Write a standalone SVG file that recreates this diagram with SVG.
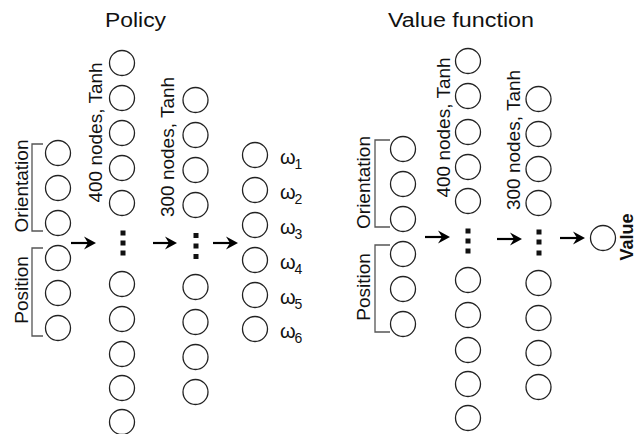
<svg xmlns="http://www.w3.org/2000/svg" width="636" height="434" viewBox="0 0 636 434">
<defs>
<style>
.n{fill:#fff;stroke:#222;stroke-width:1.3}
.t{font-family:"Liberation Sans",Arial,sans-serif;font-size:19px;fill:#111}
.m{text-anchor:middle}
.b{stroke:#555;stroke-width:1.3;fill:none}
.a{stroke:#000;stroke-width:2.2;fill:none}
.h{fill:#000}
.d{fill:#111}
.w{font-family:"Liberation Sans",Arial,sans-serif;font-size:20px;fill:#111}
.s{font-size:14px}
</style>
</defs>
<rect width="636" height="434" fill="#fff"/>

<!-- ===== Policy ===== -->
<g id="policy-title"><text class="t m" x="135.5" y="27" textLength="61" lengthAdjust="spacingAndGlyphs" style="font-size:20px">Policy</text></g>

<g id="policy-inputs">
<circle class="n" cx="58" cy="153" r="12.5"/>
<circle class="n" cx="58" cy="188" r="12.5"/>
<circle class="n" cx="58" cy="223" r="12.5"/>
<circle class="n" cx="58" cy="258" r="12.5"/>
<circle class="n" cx="58" cy="293" r="12.5"/>
<circle class="n" cx="58" cy="328" r="12.5"/>
<path class="b" d="M43,144 H32 V231 H43"/>
<path class="b" d="M43,248 H32 V336 H43"/>
<text class="t m" transform="translate(28,186) rotate(-90)">Orientation</text>
<text class="t m" transform="translate(28,290) rotate(-90)">Position</text>
</g>

<g id="policy-hidden1">
<text class="t m" transform="translate(102,132.5) rotate(-90)">400 nodes, Tanh</text>
<circle class="n" cx="122" cy="63" r="12.5"/>
<circle class="n" cx="122" cy="98" r="12.5"/>
<circle class="n" cx="122" cy="133" r="12.5"/>
<circle class="n" cx="122" cy="168" r="12.5"/>
<circle class="n" cx="122" cy="203" r="12.5"/>
<rect class="d" x="120.5" y="230.5" width="5" height="5"/>
<rect class="d" x="120.5" y="240.5" width="5" height="5"/>
<rect class="d" x="120.5" y="250.5" width="5" height="5"/>
<circle class="n" cx="122" cy="284" r="12.5"/>
<circle class="n" cx="122" cy="319" r="12.5"/>
<circle class="n" cx="122" cy="354" r="12.5"/>
<circle class="n" cx="122" cy="388" r="12.5"/>
<circle class="n" cx="122" cy="422" r="12.5"/>
</g>

<g id="policy-hidden2">
<text class="t m" transform="translate(174,147) rotate(-90)">300 nodes, Tanh</text>
<circle class="n" cx="195.5" cy="100" r="12.5"/>
<circle class="n" cx="195.5" cy="135" r="12.5"/>
<circle class="n" cx="195.5" cy="170" r="12.5"/>
<circle class="n" cx="195.5" cy="205" r="12.5"/>
<rect class="d" x="193.5" y="233" width="5" height="5"/>
<rect class="d" x="193.5" y="243.5" width="5" height="5"/>
<rect class="d" x="193.5" y="254" width="5" height="5"/>
<circle class="n" cx="195.5" cy="287" r="12.5"/>
<circle class="n" cx="195.5" cy="322" r="12.5"/>
<circle class="n" cx="195.5" cy="357" r="12.5"/>
<circle class="n" cx="195.5" cy="392" r="12.5"/>
</g>

<g id="policy-outputs">
<circle class="n" cx="255" cy="155" r="12.5"/>
<circle class="n" cx="255" cy="190" r="12.5"/>
<circle class="n" cx="255" cy="225" r="12.5"/>
<circle class="n" cx="255" cy="260" r="12.5"/>
<circle class="n" cx="255" cy="295" r="12.5"/>
<circle class="n" cx="255" cy="329" r="12.5"/>
<text class="w" x="280" y="163.5">ω<tspan class="s" x="294.5" y="168.5">1</tspan></text>
<text class="w" x="280" y="198.5">ω<tspan class="s" x="294.5" y="203.5">2</tspan></text>
<text class="w" x="280" y="233.5">ω<tspan class="s" x="294.5" y="238.5">3</tspan></text>
<text class="w" x="280" y="268.5">ω<tspan class="s" x="294.5" y="273.5">4</tspan></text>
<text class="w" x="280" y="303.5">ω<tspan class="s" x="294.5" y="308.5">5</tspan></text>
<text class="w" x="280" y="337.5">ω<tspan class="s" x="294.5" y="342.5">6</tspan></text>
</g>

<!-- ===== Value function ===== -->
<g id="value-title"><text class="t m" x="461" y="27" textLength="146" lengthAdjust="spacingAndGlyphs" style="font-size:20px">Value function</text></g>

<g id="value-inputs">
<circle class="n" cx="403" cy="149" r="12.5"/>
<circle class="n" cx="403" cy="184" r="12.5"/>
<circle class="n" cx="403" cy="219" r="12.5"/>
<circle class="n" cx="403" cy="254" r="12.5"/>
<circle class="n" cx="403" cy="289" r="12.5"/>
<circle class="n" cx="403" cy="324" r="12.5"/>
<path class="b" d="M390,140 H375 V227 H390"/>
<path class="b" d="M390,245 H375 V332 H390"/>
<text class="t m" transform="translate(370,182.5) rotate(-90)">Orientation</text>
<text class="t m" transform="translate(370,287) rotate(-90)">Position</text>
</g>

<g id="value-hidden1">
<text class="t m" transform="translate(450,127.5) rotate(-90)">400 nodes, Tanh</text>
<circle class="n" cx="468" cy="61" r="12.5"/>
<circle class="n" cx="468" cy="96" r="12.5"/>
<circle class="n" cx="468" cy="132" r="12.5"/>
<circle class="n" cx="468" cy="167" r="12.5"/>
<circle class="n" cx="468" cy="201" r="12.5"/>
<rect class="d" x="465.5" y="228.5" width="5" height="5"/>
<rect class="d" x="465.5" y="238.5" width="5" height="5"/>
<rect class="d" x="465.5" y="248.5" width="5" height="5"/>
<circle class="n" cx="468" cy="280" r="12.5"/>
<circle class="n" cx="468" cy="315" r="12.5"/>
<circle class="n" cx="468" cy="350" r="12.5"/>
<circle class="n" cx="468" cy="384" r="12.5"/>
<circle class="n" cx="468" cy="418" r="12.5"/>
</g>

<g id="value-hidden2">
<text class="t m" transform="translate(520,140) rotate(-90)">300 nodes, Tanh</text>
<circle class="n" cx="538.5" cy="99" r="12.5"/>
<circle class="n" cx="538.5" cy="134" r="12.5"/>
<circle class="n" cx="538.5" cy="169" r="12.5"/>
<circle class="n" cx="538.5" cy="203" r="12.5"/>
<rect class="d" x="536.5" y="229.5" width="5" height="5"/>
<rect class="d" x="536.5" y="239.5" width="5" height="5"/>
<rect class="d" x="536.5" y="250.5" width="5" height="5"/>
<circle class="n" cx="538.5" cy="283" r="12.5"/>
<circle class="n" cx="538.5" cy="318" r="12.5"/>
<circle class="n" cx="538.5" cy="353" r="12.5"/>
<circle class="n" cx="538.5" cy="387" r="12.5"/>
</g>

<g id="value-output">
<circle class="n" cx="603" cy="238" r="12.5"/>
<text class="t m" transform="translate(633,237) rotate(-90)" font-weight="bold" style="font-size:18px">Value</text>
</g>

<!-- ===== Connectors ===== -->
<g id="connectors">
<path class="a" d="M71,243 H89"/><path class="h" d="M96,243 L84,236.5 L88,243 L84,249.5 Z"/>
<path class="a" d="M153,243 H170"/><path class="h" d="M177,243 L165,236.5 L169,243 L165,249.5 Z"/>
<path class="a" d="M213,243 H231"/><path class="h" d="M238,243 L226,236.5 L230,243 L226,249.5 Z"/>
<path class="a" d="M425,237 H443"/><path class="h" d="M450,237 L438,230.5 L442,237 L438,243.5 Z"/>
<path class="a" d="M497,239 H515"/><path class="h" d="M522,239 L510,232.5 L514,239 L510,245.5 Z"/>
<path class="a" d="M560,238 H578"/><path class="h" d="M585,238 L573,231.5 L577,238 L573,244.5 Z"/>
</g>
</svg>
